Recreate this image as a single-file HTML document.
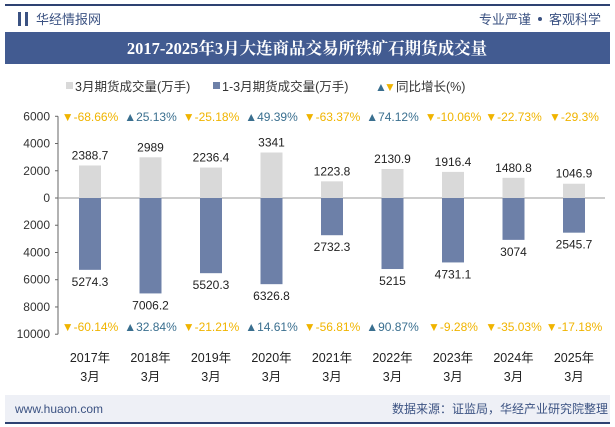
<!DOCTYPE html>
<html><head><meta charset="utf-8"><style>
body{margin:0;width:615px;height:427px;background:#fff;overflow:hidden;font-family:"Liberation Sans","Noto Sans CJK SC",sans-serif}
</style></head><body>
<svg width="615" height="427" style="position:absolute;left:0;top:0">
<rect x="5" y="4" width="605" height="2" fill="#2e4272"/>
<rect x="18" y="12" width="3" height="14" fill="#3b5282"/><rect x="25" y="12" width="3" height="14" fill="#3b5282"/>
<text x="36" y="24" font-size="13" fill="#3b5282">华经情报网</text>
<text x="531" y="24" font-size="13" fill="#3b5282" text-anchor="end">专业严谨</text>
<circle cx="540" cy="19" r="2" fill="#3b5282"/>
<text x="601" y="24" font-size="13" fill="#3b5282" text-anchor="end">客观科学</text>
<rect x="5" y="32" width="605" height="32" fill="#425b91"/>
<text x="307" y="54" font-size="16.5" font-weight="bold" fill="#fff" text-anchor="middle" font-family="Liberation Serif,Noto Serif CJK SC,serif">2017-2025年3月大连商品交易所铁矿石期货成交量</text>
<g font-size="12.5" fill="#333">
<rect x="66" y="82" width="7" height="7" fill="#d9d9d9"/><text x="75" y="91">3月期货成交量(万手)</text>
<rect x="213" y="82" width="7" height="7" fill="#6d80a8"/><text x="222" y="91">1-3月期货成交量(万手)</text>
<text x="375" y="91" fill="#3a6f8f" font-size="12">▲</text><text x="384" y="91" fill="#f0b400" font-size="12">▼</text><text x="396" y="91">同比增长(%)</text>
</g>
<g id="plot"></g>
<rect x="5" y="395" width="605" height="27" fill="#eef0f6"/>
<text x="15" y="413" font-size="12" fill="#3b5282">www.huaon.com</text>
<text x="608" y="413" font-size="12" fill="#3b5282" text-anchor="end">数据来源：证监局，华经产业研究院整理</text>
<rect x="5" y="422" width="605" height="2" fill="#2e4272"/>
</svg>
<script>
const categories=["2017年","2018年","2019年","2020年","2021年","2022年","2023年","2024年","2025年"];
const monthly=[2388.7,2989,2236.4,3341,1223.8,2130.9,1916.4,1480.8,1046.9];
const cumulative=[5274.3,7006.2,5520.3,6326.8,2732.3,5215,4731.1,3074,2545.7];
const growthMonthly=[-68.66,25.13,-25.18,49.39,-63.37,74.12,-10.06,-22.73,-29.3];
const growthCum=[-60.14,32.84,-21.21,14.61,-56.81,90.87,-9.28,-35.03,-17.18];
const yTicks=[6000,4000,2000,0,2000,4000,6000,8000,10000];
const yTickVals=[6000,4000,2000,0,-2000,-4000,-6000,-8000,-10000];
const NS="http://www.w3.org/2000/svg",g=document.getElementById('plot');
const y=v=>198-v*0.01362, x=i=>90+i*60.5;
function el(t,a,txt){const e=document.createElementNS(NS,t);for(const k in a)e.setAttribute(k,a[k]);if(txt!=null)e.textContent=txt;g.appendChild(e);return e;}
let ax=el('line',{x1:58,y1:y(6000),x2:58,y2:y(-10000),stroke:'#666'});

el('line',{x1:58,y1:198,x2:605,y2:198,stroke:'#999'});
yTickVals.forEach((v,i)=>{el('line',{x1:55,y1:y(v),x2:58,y2:y(v),stroke:'#666'});
 const t=el('text',{x:50,y:y(v)+4,'font-size':12,'text-anchor':'end',fill:'#333'},yTicks[i]);
 });
categories.forEach((c,i)=>{const cx=x(i);
 const b1=el('rect',{x:cx-11,y:y(monthly[i]),width:22,height:198-y(monthly[i]),fill:'#d9d9d9'});
 
 const b2=el('rect',{x:cx-11,y:198,width:22,height:y(-cumulative[i])-198,fill:'#6d80a8'});
 
 el('text',{x:cx,y:y(monthly[i])-6,'font-size':12,'text-anchor':'middle',fill:'#222'},monthly[i]);
 el('text',{x:cx,y:y(-cumulative[i])+16,'font-size':12,'text-anchor':'middle',fill:'#222'},cumulative[i]);
 [[growthMonthly[i],121],[growthCum[i],331]].forEach(([gv,yy])=>{const up=gv>=0;
  const t=el('text',{x:cx,y:yy,'font-size':12,'text-anchor':'middle',fill:up?'#3a6f8f':'#f0b400'},(up?'▲':'▼')+gv+'%');
  });
 el('text',{x:cx,y:362,'font-size':12.5,'text-anchor':'middle',fill:'#222'},c);
 el('text',{x:cx,y:381,'font-size':12.5,'text-anchor':'middle',fill:'#222'},'3月');
});
</script>
</body></html>
